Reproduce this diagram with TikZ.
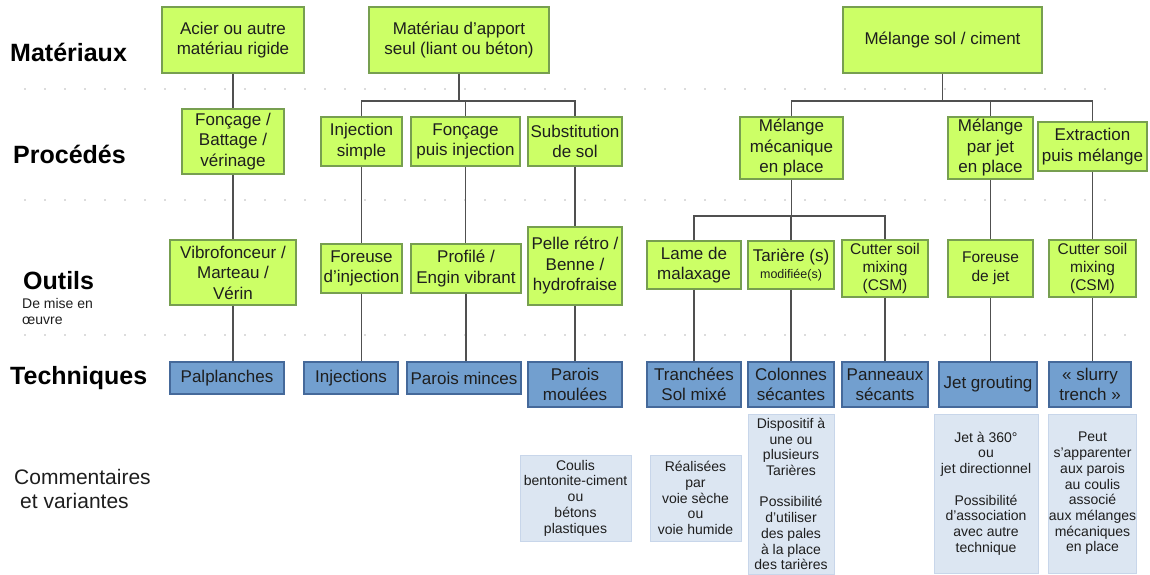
\documentclass[tikz,border=0pt]{standalone}
\usepackage{fontspec}
\setmainfont{Liberation Sans}
\definecolor{gfill}{HTML}{CCFF66}
\definecolor{gdraw}{HTML}{779F50}
\definecolor{bfill}{HTML}{729FCF}
\definecolor{bdraw}{HTML}{45699A}
\definecolor{cfill}{HTML}{DCE6F2}
\definecolor{cdraw}{HTML}{C8D6EA}
\definecolor{txt}{HTML}{1E1E1E}
\definecolor{lnk}{HTML}{505050}
\begin{document}
\begin{tikzpicture}[x=1pt,y=-1pt,
  base/.style={rectangle, inner sep=0pt, align=center, text=txt, line width=1.3pt},
  gbox/.style={base, fill=gfill, draw=gdraw, font=\fontsize{17}{20.5}\selectfont},
  bbox/.style={base, fill=bfill, draw=bdraw, font=\fontsize{17}{20.5}\selectfont},
  cbox/.style={base, fill=cfill, draw=cdraw, line width=1pt, font=\fontsize{14}{15.7}\selectfont},
  rowlabel/.style={anchor=west, inner sep=0pt, text=black, font=\fontsize{25}{28}\selectfont\bfseries},
  link/.style={draw=lnk, line width=1.4pt},
  dotline/.style={draw=gray!55, line width=1.8pt, line cap=round, dash pattern=on 0pt off 20pt}
]
\useasboundingbox (0,0) rectangle (1150,575);

% dotted separators
\draw[dotline] (25,89) -- (1125,89);
\draw[dotline] (25,200) -- (1125,200);
\draw[dotline] (25,335) -- (1130,335);

% row labels
\node[rowlabel] (lmat) at (10,52) {Matériaux};
\node[rowlabel] (lproc) at (13,154) {Procédés};
\node[rowlabel] (lout) at (23,281) {Outils};
\node[anchor=west, inner sep=0pt, align=left, text=txt, font=\fontsize{14}{16}\selectfont] (lout2) at (22,311) {De mise en\\œuvre};
\node[rowlabel] (ltech) at (10,378) {Techniques};
\node[anchor=west, inner sep=0pt, align=left, text=txt, font=\fontsize{21}{24}\selectfont] (lcom) at (14,489) {Commentaires\\\hspace{6pt}et variantes};

% Matériaux
\node[gbox, minimum width=142, minimum height=66] (acier) at (233,40) {Acier ou autre\\matériau rigide};
\node[gbox, minimum width=180, minimum height=66] (apport) at (459,40) {Matériau d’apport\\seul (liant ou béton)};
\node[gbox, minimum width=199, minimum height=66] (melange) at (942.5,40) {Mélange sol / ciment};

% Procédés
\node[gbox, minimum width=102, minimum height=65] (foncage) at (233,141.5) {Fonçage /\\Battage /\\vérinage};
\node[gbox, minimum width=81, minimum height=49] (injsimple) at (361.5,141.5) {Injection\\simple};
\node[gbox, minimum width=109, minimum height=49] (foncinj) at (465.5,141.5) {Fonçage\\puis injection};
\node[gbox, minimum width=94, minimum height=49] (subst) at (575,141.5) {Substitution\\de sol};
\node[gbox, minimum width=103, minimum height=62] (mecan) at (791.5,148) {Mélange\\mécanique\\en place};
\node[gbox, minimum width=85, minimum height=62] (jet) at (990.5,148) {Mélange\\par jet\\en place};
\node[gbox, minimum width=109, minimum height=49] (extract) at (1092.5,146.5) {Extraction\\puis mélange};

% Outils
\node[gbox, minimum width=126, minimum height=65] (vibro) at (233,272.5) {Vibrofonceur /\\Marteau /\\Vérin};
\node[gbox, minimum width=81, minimum height=49] (forinj) at (361.5,268.5) {Foreuse\\d’injection};
\node[gbox, minimum width=110, minimum height=49] (profile) at (466,268.5) {Profilé /\\Engin vibrant};
\node[gbox, minimum width=94, minimum height=78] (pelle) at (575,266) {Pelle rétro /\\Benne /\\hydrofraise};
\node[gbox, minimum width=94, minimum height=48] (lame) at (694,265) {Lame de\\malaxage};
\node[gbox, minimum width=86, minimum height=48] (tariere) at (791,265) {Tarière (s)\\[-3pt]{\fontsize{12.5}{14}\selectfont modifiée(s)}};
\node[gbox, minimum width=86, minimum height=57, font=\fontsize{15.5}{18}\selectfont] (csmA) at (885,268.5) {Cutter soil\\mixing\\(CSM)};
\node[gbox, minimum width=85, minimum height=57, font=\fontsize{15.5}{19}\selectfont] (forjet) at (990.5,268.5) {Foreuse\\de jet};
\node[gbox, minimum width=87, minimum height=57, font=\fontsize{15.5}{18}\selectfont] (csmB) at (1092.5,268.5) {Cutter soil\\mixing\\(CSM)};

% Techniques
\node[bbox, minimum width=114, minimum height=32] (palp) at (227,378) {Palplanches};
\node[bbox, minimum width=94, minimum height=32] (injs) at (351,378) {Injections};
\node[bbox, minimum width=114, minimum height=32] (minces) at (464,378) {Parois minces};
\node[bbox, minimum width=94, minimum height=45] (moulees) at (575,384.5) {Parois\\moulées};
\node[bbox, minimum width=94, minimum height=45] (tranch) at (694,384.5) {Tranchées\\Sol mixé};
\node[bbox, minimum width=86, minimum height=45] (colonnes) at (791,384.5) {Colonnes\\sécantes};
\node[bbox, minimum width=86, minimum height=45] (panneaux) at (885,384.5) {Panneaux\\sécants};
\node[bbox, minimum width=98, minimum height=45] (jetg) at (988,384.5) {Jet grouting};
\node[bbox, minimum width=82, minimum height=45] (slurry) at (1090,384.5) {« slurry\\trench »};

% Commentaires
\node[cbox, minimum width=111, minimum height=86] (coulis) at (575.5,498) {Coulis\\bentonite-ciment\\ou\\bétons\\plastiques};
\node[cbox, minimum width=91, minimum height=86] (realis) at (695.5,498) {Réalisées\\par\\voie sèche\\ou\\voie humide};
\node[cbox, minimum width=86, minimum height=160] (dispo) at (791,494) {Dispositif à\\une ou\\plusieurs\\Tarières\\[15.7pt]Possibilité\\d’utiliser\\des pales\\à la place\\des tarières};
\node[cbox, minimum width=104, minimum height=159] (jet360) at (986,493.5) {Jet à 360°\\ou\\jet directionnel\\[15.7pt]Possibilité\\d’association\\avec autre\\technique};
\node[cbox, minimum width=87, minimum height=159] (peut) at (1092.5,493.5) {Peut\\s’apparenter\\aux parois\\au coulis\\associé\\aux mélanges\\mécaniques\\en place};

% connectors
\coordinate (apbar) at (463,101);
\coordinate (mbar) at (942.5,101);
\coordinate (mecbar) at (791,216);

\draw[link] (acier.south) -- (acier.south |- foncage.north);
\draw[link] (foncage.south) -- (foncage.south |- vibro.north);
\draw[link] (vibro.south) -- (vibro.south |- palp.north);

\draw[link] (apport.south) -- (apport.south |- apbar);
\draw[link] (injsimple.north) |- (apbar) -| (subst.north);
\draw[link] (foncinj.north |- apbar) -- (foncinj.north);
\draw[link] (injsimple.south) -- (injsimple.south |- forinj.north);
\draw[link] (forinj.south) -- (forinj.south |- injs.north);
\draw[link] (foncinj.south) -- (foncinj.south |- profile.north);
\draw[link] (profile.south) -- (profile.south |- minces.north);
\draw[link] (subst.south) -- (subst.south |- pelle.north);
\draw[link] (pelle.south) -- (pelle.south |- moulees.north);

\draw[link] (melange.south) -- (mbar);
\draw[link] (mecan.north) |- (mbar) -| (extract.north);
\draw[link] (jet.north |- mbar) -- (jet.north);
\draw[link] (mecan.south) -- (mecan.south |- mecbar);
\draw[link] (lame.north) |- (mecbar) -| (csmA.north);
\draw[link] (tariere.north |- mecbar) -- (tariere.north);
\draw[link] (lame.south) -- (lame.south |- tranch.north);
\draw[link] (tariere.south) -- (tariere.south |- colonnes.north);
\draw[link] (csmA.south) -- (csmA.south |- panneaux.north);
\draw[link] (jet.south) -- (jet.south |- forjet.north);
\draw[link] (forjet.south) -- (forjet.south |- jetg.north);
\draw[link] (extract.south) -- (extract.south |- csmB.north);
\draw[link] (csmB.south) -- (csmB.south |- slurry.north);
\end{tikzpicture}
\end{document}
